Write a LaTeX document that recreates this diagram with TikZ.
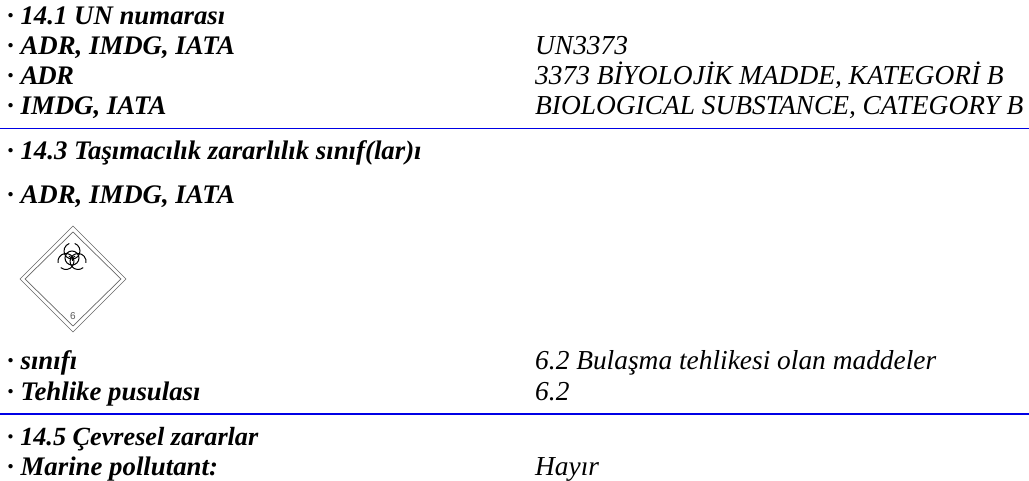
\documentclass[tikz,border=0pt]{standalone}
\usepackage{fontspec}
\setmainfont{Liberation Serif}
\newfontfamily\lsans{Liberation Sans}
\newcommand{\ADRk}{A\kern-1pt D\kern-0.6pt R}
\begin{document}
\begin{tikzpicture}[x=1pt,y=-1pt,
  lbl/.style={anchor=base west,inner sep=0pt,font=\fontsize{27.4}{27.4}\selectfont\itshape},
  hd/.style={lbl,font=\fontsize{26.8}{26.8}\selectfont\itshape\bfseries},
  rulee/.style={draw=blue!90!black,line width=1.6pt},
  dia/.style={draw=black!60,line width=0.7pt,line join=miter},
  bio/.style={draw=black,line width=1pt}]
\useasboundingbox (0,0) rectangle (1029,481);
\node[hd] (a1) at (7,25) {· 14.1 UN numarası};
\node[hd] (a2) at (7,55) {· ADR, IMDG, IATA};
\node[hd] (a3) at (7,85) {· \ADRk};
\node[hd] (a4) at (7,115) {· IMDG, IATA};
\node[lbl] (b2) at (535,55) {UN3373};
\node[lbl] (b3) at (535,85) {3373 BİYOLOJİK MADDE, KATEGORİ B};
\node[lbl] (b4) at (535,115) {BIOLOGICAL SUBSTANCE, CATEGORY B};
\draw[rulee] (0,128.5) -- (1029,128.5);
\node[hd] (c1) at (7,160) {· 14.3 Taşımacılık zararlılık sınıf(lar)ı};
\node[hd] (c2) at (7,204) {· ADR, IMDG, IATA};
\draw[dia] (73,226)--(126,279)--(73,332)--(20,279)--cycle;
\draw[dia] (73,232)--(121,279)--(73,326)--(25,279)--cycle;
\draw[bio] (72,258) circle (7);
\foreach \r in {0,120,240}{
  \begin{scope}[shift={(72,258)},rotate=\r]
    \draw[bio] (0,0) -- (0,3.5);
    \draw[bio] (2.74,-14.52) arc[start angle=-70,end angle=250,radius=8];
  \end{scope}
}
\node[inner sep=0pt,text=black!65,font=\fontsize{10}{10}\selectfont\lsans] (six) at (73,316.5) {6};
\node[hd] (d1) at (7,370) {· sınıfı};
\node[hd] (d2) at (7,400) {· Tehlike pusulası};
\node[lbl] (e1) at (535,370) {6.2 Bulaşma tehlikesi olan maddeler};
\node[lbl] (e2) at (535,400) {6.2};
\draw[rulee] (0,414) -- (1029,414);
\node[hd,font=\fontsize{26.2}{26.2}\selectfont\itshape\bfseries] (f1) at (7,445) {· 14.5 Çevresel zararlar};
\node[hd] (f2) at (7,475) {· Marine pollutant:};
\node[lbl] (g2) at (535,475) {Hayır};
\end{tikzpicture}
\end{document}
